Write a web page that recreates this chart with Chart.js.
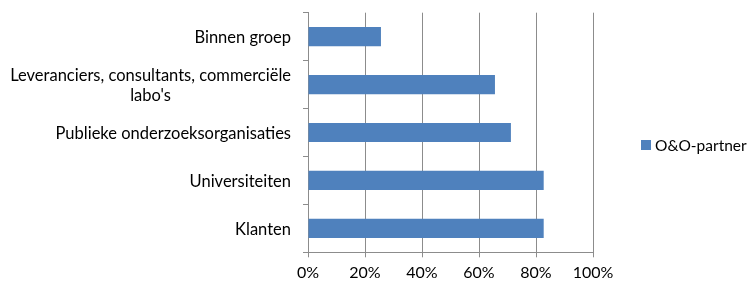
<!DOCTYPE html>
<html>
<head>
<meta charset="utf-8">
<script src="https://cdn.jsdelivr.net/npm/chart.js@4"></script>
<style>
  html, body { margin: 0; padding: 0; background: #fff; }
  #wrap { width: 749px; height: 282px; position: relative; }
</style>
</head>
<body>
<div id="wrap"><canvas id="chart"></canvas></div>
<script>
const categories = [
  'Binnen groep',
  ['Leveranciers, consultants, commerciële', "labo's"],
  'Publieke onderzoeksorganisaties',
  'Universiteiten',
  'Klanten'
];
const seriesName = 'O&O-partner';
const values = [25.6, 65.6, 71.2, 82.7, 82.7];
const tickValues = [0, 20, 40, 60, 80, 100];

const FONT = 'Lato, "Liberation Sans", sans-serif';
const GRID = '#8c8c8c';
const BLUE = '#4f81bd';

// y labels: right aligned, extra lines centred under the first one (like Excel)
const yLabels = {
  id: 'yLabels',
  afterDraw(chart) {
    const ctx = chart.ctx;
    const y = chart.scales.y;
    ctx.save();
    ctx.font = '16.5px ' + FONT;
    ctx.fillStyle = '#000';
    ctx.textBaseline = 'middle';
    const right = chart.chartArea.left - 17;
    const lh = 20;
    chart.data.labels.forEach((lab, i) => {
      const lines = Array.isArray(lab) ? lab : [lab];
      const cy = y.getPixelForTick(i) + 1;
      const w0 = ctx.measureText(lines[0]).width;
      lines.forEach((t, j) => {
        const ly = cy + (j - (lines.length - 1) / 2) * lh;
        if (j === 0) {
          ctx.textAlign = 'right';
          ctx.fillText(t, right, ly);
        } else {
          ctx.textAlign = 'center';
          ctx.fillText(t, right - w0 / 2, ly);
        }
      });
    });
    ctx.restore();
  }
};

// legend placed to the right of the plot
const sideLegend = {
  id: 'sideLegend',
  afterDraw(chart) {
    const ctx = chart.ctx;
    const ds = chart.data.datasets[0];
    const x = 641, cy = 145;
    ctx.save();
    ctx.fillStyle = ds.backgroundColor;
    ctx.fillRect(x, cy - 5, 10, 10);
    ctx.font = '15.5px ' + FONT;
    ctx.fillStyle = '#000';
    ctx.textAlign = 'left';
    ctx.textBaseline = 'middle';
    ctx.fillText(ds.label, x + 14, cy + 1);
    ctx.restore();
  }
};

new Chart(document.getElementById('chart'), {
  type: 'bar',
  data: {
    labels: categories,
    datasets: [{
      label: seriesName,
      data: values,
      backgroundColor: BLUE,
      borderWidth: 0,
      categoryPercentage: 1,
      barPercentage: 0.4
    }]
  },
  options: {
    indexAxis: 'y',
    responsive: true,
    maintainAspectRatio: false,
    animation: false,
    layout: { padding: { top: 12.7, right: 156, bottom: 0, left: 0 } },
    plugins: {
      legend: { display: false },
      tooltip: { enabled: false }
    },
    scales: {
      x: {
        min: 0,
        max: 100,
        afterBuildTicks(scale) {
          scale.ticks = tickValues.map(v => ({ value: v }));
        },
        afterFit(scale) { scale.height = 29.7; },
        ticks: {
          color: '#000',
          padding: 6,
          maxRotation: 0,
          font: { family: FONT, size: 16 },
          callback: v => v + '%'
        },
        grid: { color: GRID, lineWidth: 1, tickLength: 5, drawTicks: true },
        border: { color: GRID, width: 1 }
      },
      y: {
        offset: true,
        afterFit(scale) { scale.width = 308; },
        ticks: { display: false },
        grid: { offset: true, drawOnChartArea: false, color: GRID, tickLength: 5 },
        border: { color: GRID, width: 1 }
      }
    }
  },
  plugins: [yLabels, sideLegend]
});
</script>
</body>
</html>
